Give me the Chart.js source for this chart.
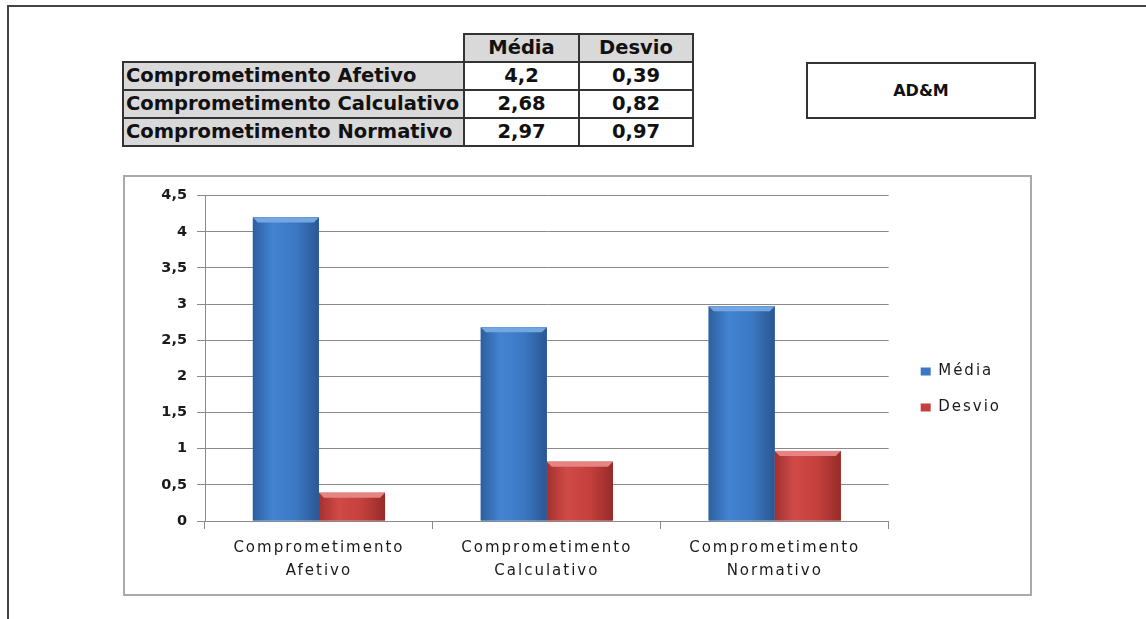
<!DOCTYPE html>
<html lang="pt">
<head>
<meta charset="utf-8">
<script src="https://cdn.jsdelivr.net/npm/chart.js@4.4.1/dist/chart.umd.min.js"></script>
<style>
  html, body { margin: 0; padding: 0; background: #fff; width: 1146px; height: 619px; overflow: hidden; }
  body { position: relative; font-family: "DejaVu Sans", Verdana, sans-serif; color: #111; }
  #moldura { position: absolute; left: 7px; top: 5px; width: 1300px; height: 800px;
             border-left: 2px solid #444; border-top: 2px solid #444; }
  #resumo { position: absolute; left: 122px; top: 33px; border-collapse: collapse;
            font-weight: bold; font-size: 19.5px; table-layout: fixed; }
  #resumo td { height: 26px; padding: 0; border: 2px solid #333; white-space: nowrap; overflow: hidden; line-height: 24px; }
  #resumo td.rot { background: #d9d9d9; padding-left: 2px; width: 337px; }
  #resumo td.cab { background: #d9d9d9; text-align: center; }
  #resumo td.num { text-align: center; background: #fff; }
  #resumo td.vazio { border: none; background: transparent; }
  #marca { position: absolute; left: 806px; top: 62px; width: 226px; height: 53px;
           border: 2px solid #333; font-weight: bold; font-size: 16px;
           display: flex; align-items: center; justify-content: center; }
  #caixa { position: absolute; left: 123px; top: 175px; width: 905px; height: 417px;
           border: 2px solid #a9a9a9; }
  #grafico { display: block; }
</style>
</head>
<body>
<div id="moldura"></div>
<table id="resumo"></table>
<div id="marca">AD&amp;M</div>
<div id="caixa"><canvas id="grafico" width="905" height="417"></canvas></div>

<script>
// dados
const categorias = ['Comprometimento Afetivo', 'Comprometimento Calculativo', 'Comprometimento Normativo'];
const media = [4.2, 2.68, 2.97];
const desvio = [0.39, 0.82, 0.97];
const series = ['Média', 'Desvio'];
const yMax = 4.5, yPasso = 0.5;

const virgula = v => String(v).replace('.', ',');

// tabela de resumo
function montarTabela() {
  const t = document.getElementById('resumo');
  let html = '<tr><td class="vazio" style="width:339px"></td>' +
    series.map(s => `<td class="cab" style="width:${s === 'Média' ? 113 : 112}px">${s}</td>`).join('') + '</tr>';
  categorias.forEach((c, i) => {
    html += `<tr><td class="rot">${c}</td><td class="num">${virgula(media[i])}</td><td class="num">${virgula(desvio[i])}</td></tr>`;
  });
  t.innerHTML = html;
}

// cores das barras (borda escura, centro claro, bisel no topo)
const tons = [
  { base: '#3b78c3', esq: '#2d5f9f', meio: '#4284d2', dir: '#2a5793', bisel: '#74a6e2' },
  { base: '#c4403d', esq: '#a3312e', meio: '#d04a47', dir: '#962b28', bisel: '#e58482' }
];

const barras3d = {
  id: 'barras3d',
  afterDatasetsDraw(chart) {
    const ctx = chart.ctx;
    chart.data.datasets.forEach((ds, di) => {
      const cor = tons[di];
      chart.getDatasetMeta(di).data.forEach(bar => {
        const { x, y, base, width } = bar.getProps(['x', 'y', 'base', 'width'], true);
        const l = x - width / 2, r = x + width / 2;
        const g = ctx.createLinearGradient(l, 0, r, 0);
        g.addColorStop(0, cor.esq);
        g.addColorStop(0.3, cor.meio);
        g.addColorStop(0.65, cor.base);
        g.addColorStop(1, cor.dir);
        ctx.save();
        ctx.fillStyle = g;
        ctx.fillRect(l, y, width, base - y);
        const b = Math.min(5, (base - y) / 2);
        ctx.fillStyle = cor.bisel;
        ctx.beginPath();
        ctx.moveTo(l, y);
        ctx.lineTo(r, y);
        ctx.lineTo(r - b, y + b);
        ctx.lineTo(l + b, y + b);
        ctx.closePath();
        ctx.fill();
        ctx.restore();
      });
    });
  }
};

// espaçamento das letras, como no Excel (o contexto é zerado quando o canvas muda de tamanho)
const ESPACO = '2px';
const espacamento = {
  id: 'espacamento',
  beforeLayout(chart) { chart.ctx.letterSpacing = ESPACO; },
  beforeDraw(chart) { chart.ctx.letterSpacing = ESPACO; }
};

// legenda um pouco mais afastada da área do gráfico
const ajusteLegenda = {
  id: 'ajusteLegenda',
  afterLayout(chart) {
    const lg = chart.legend;
    lg.left += 11; lg.right += 11;
    lg.top -= 5; lg.bottom -= 5;
  }
};

// rótulos do eixo y sem espaçamento extra
function semEspaco(scale) {
  if (scale._semEspaco) return;
  const desenhar = scale.drawLabels;
  scale.drawLabels = function (area) {
    const c = this.ctx;
    const antes = c.letterSpacing;
    c.letterSpacing = '0px';
    desenhar.call(this, area);
    c.letterSpacing = antes;
  };
  scale._semEspaco = true;
}

function desenharGrafico() {
  const cinza = '#8a8a8a';
  const texto = '#1a1a1a';
  new Chart(document.getElementById('grafico'), {
    type: 'bar',
    data: {
      labels: categorias.map(c => c.split(' ')),
      datasets: [
        { label: series[0], data: media, backgroundColor: tons[0].base },
        { label: series[1], data: desvio, backgroundColor: tons[1].base }
      ]
    },
    options: {
      responsive: false,
      animation: false,
      layout: { padding: { top: 18, right: 30, left: 0, bottom: 0 } },
      datasets: { bar: { categoryPercentage: 0.58, barPercentage: 1 } },
      plugins: {
        legend: {
          position: 'right',
          labels: {
            boxWidth: 10, boxHeight: 8, padding: 21, color: texto,
            font: { family: 'DejaVu Sans', size: 15 }
          }
        },
        tooltip: { enabled: false }
      },
      scales: {
        x: {
          grid: { offset: true, drawOnChartArea: false, tickLength: 8, color: cinza },
          border: { color: cinza },
          ticks: {
            color: texto, maxRotation: 0, padding: 8,
            font: { family: 'DejaVu Sans', size: 15, lineHeight: 1.5 }
          },
          afterFit(s) { s.height = 73; }
        },
        y: {
          min: 0, max: yMax,
          grid: { color: cinza, tickLength: 8 },
          border: { color: cinza },
          ticks: {
            stepSize: yPasso, padding: 10, color: texto,
            font: { family: 'DejaVu Sans', size: 14.5, weight: 'bold' },
            callback: v => virgula(v)
          },
          afterFit(s) { s.width = 80; semEspaco(s); }
        }
      }
    },
    plugins: [espacamento, barras3d, ajusteLegenda]
  });
}

window.addEventListener('DOMContentLoaded', () => {
  montarTabela();
  desenharGrafico();
});
</script>
</body>
</html>
